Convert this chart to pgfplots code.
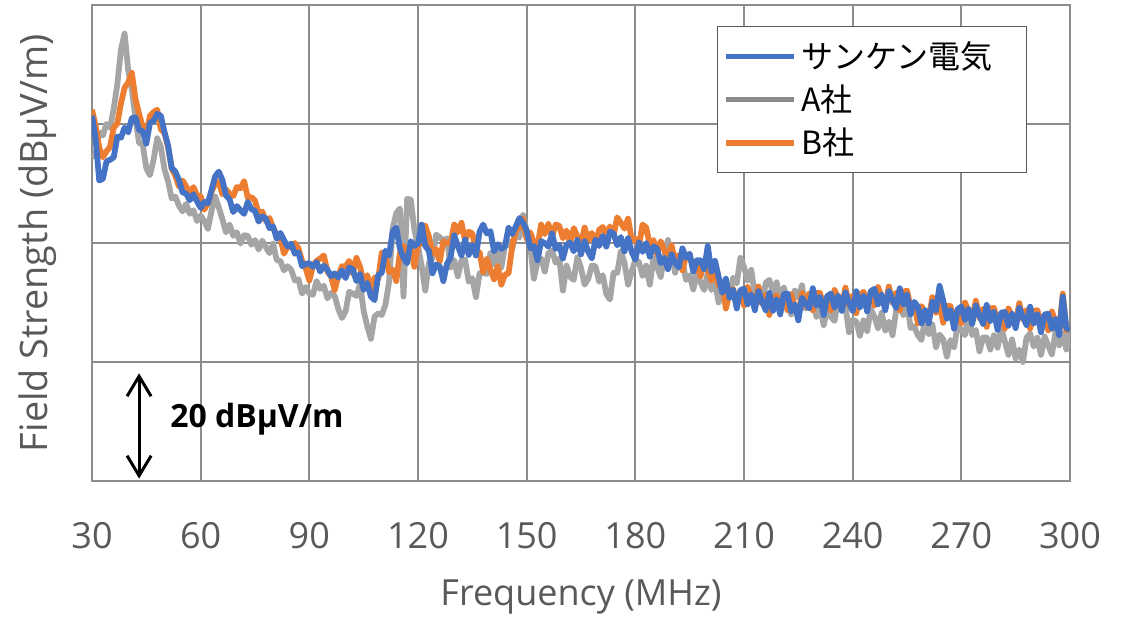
\documentclass[border=0pt]{standalone}
\usepackage{fontspec}
\setmainfont{Open Sans}
\newfontfamily\cjk{Noto Sans CJK JP}
\usepackage{pgfplots}
\usepackage{pgfplotstable}
\pgfplotsset{compat=1.18}
\usetikzlibrary{arrows.meta}

\definecolor{sanken}{HTML}{4472C4}
\definecolor{compA}{HTML}{A5A5A5}
\definecolor{legA}{HTML}{8A8A8A}
\definecolor{compB}{HTML}{ED7D31}
\definecolor{gridc}{HTML}{8C8C8C}
\definecolor{txt}{HTML}{595959}

% f = frequency (MHz), S = Sanken, A = company A, B = company B (dBuV/m, relative)
\pgfplotstableread{
f S A B
30 61.4 54.5 62.4
31 57.5 54.8 59.7
32 50.5 58.6 56.0
33 50.8 58.1 54.4
34 53.7 60.0 55.4
35 54.0 59.4 56.2
36 54.4 62.6 59.4
37 57.9 66.7 60.1
38 57.7 72.5 63.5
39 59.4 75.2 66.1
40 58.6 69.0 67.0
41 61.0 65.8 68.6
42 61.1 61.0 64.2
43 59.0 56.8 61.7
44 58.8 56.6 59.5
45 56.7 52.6 58.4
46 60.2 51.4 61.4
47 60.5 54.0 62.0
48 61.7 57.6 62.4
49 61.4 56.2 59.1
50 58.7 52.4 58.5
51 56.4 50.4 56.1
52 52.6 47.5 52.5
53 52.0 47.8 51.3
54 50.6 46.3 49.5
55 48.5 45.3 50.5
56 48.3 46.6 49.5
57 47.2 44.9 48.4
58 48.2 45.5 49.4
59 47.0 43.7 48.0
60 45.9 44.6 47.9
61 46.9 43.7 45.6
62 46.7 42.4 46.7
63 48.9 45.4 48.6
64 51.2 47.8 50.0
65 52.0 46.0 50.3
66 50.6 44.0 48.2
67 48.0 41.8 49.0
68 47.3 43.1 48.3
69 45.2 41.2 47.9
70 46.2 41.8 49.4
71 45.5 39.9 49.2
72 44.9 41.3 50.4
73 46.9 41.2 47.6
74 45.7 39.7 47.7
75 45.4 40.5 47.1
76 43.6 38.9 45.0
77 44.5 40.4 45.3
78 44.1 39.3 43.7
79 42.5 38.3 44.2
80 42.8 39.9 42.5
81 40.7 37.1 41.4
82 41.7 37.0 40.9
83 40.5 35.4 38.2
84 39.4 36.1 39.4
85 39.9 35.5 39.3
86 38.2 33.7 40.0
87 38.4 33.9 39.1
88 36.1 31.5 37.0
89 36.5 32.6 35.8
90 36.6 31.5 33.7
91 36.0 31.3 36.2
92 36.8 33.6 37.0
93 35.2 32.3 37.4
94 36.2 32.8 37.9
95 35.5 30.7 35.2
96 34.4 31.6 34.4
97 34.9 31.1 32.1
98 34.2 28.9 34.5
99 35.4 27.4 36.1
100 34.1 28.5 36.0
101 35.9 31.8 37.0
102 35.6 31.5 34.9
103 33.6 31.1 37.5
104 34.8 33.1 36.0
105 32.1 28.6 33.4
106 33.3 26.0 34.6
107 31.0 23.9 31.8
108 30.4 27.6 34.2
109 34.6 28.2 33.9
110 35.0 27.9 38.4
111 38.7 29.6 38.1
112 37.9 33.4 35.1
113 41.9 42.4 35.5
114 42.6 45.0 33.6
115 39.1 45.8 38.3
116 37.5 31.0 39.5
117 36.6 47.4 38.4
118 40.3 47.3 39.1
119 39.5 42.2 36.0
120 39.9 39.5 39.7
121 43.1 36.2 39.9
122 39.5 32.0 42.9
123 38.7 36.6 41.1
124 34.9 37.4 38.1
125 36.4 41.4 39.0
126 36.1 41.0 36.9
127 33.6 40.3 40.3
128 36.5 40.8 40.0
129 37.6 35.9 39.9
130 41.3 37.1 43.1
131 39.5 34.4 41.8
132 37.9 37.1 43.4
133 40.6 37.2 40.4
134 38.0 33.5 41.9
135 39.7 34.1 41.6
136 37.9 30.9 38.6
137 41.9 34.9 38.5
138 43.1 35.0 35.1
139 41.6 34.8 37.3
140 42.0 38.3 35.5
141 38.6 36.4 33.9
142 39.8 38.3 36.1
143 39.0 35.9 33.0
144 39.4 39.5 34.7
145 42.6 40.4 34.9
146 41.5 39.0 39.4
147 42.8 41.6 42.1
148 44.2 40.9 42.6
149 43.4 44.7 44.1
150 42.1 42.0 40.6
151 39.1 39.3 41.8
152 39.5 34.0 40.0
153 37.1 36.9 39.4
154 40.3 37.4 43.1
155 40.0 35.2 41.5
156 39.4 38.3 43.2
157 41.6 38.7 41.1
158 39.0 36.7 43.1
159 39.7 37.4 42.9
160 37.4 32.0 40.8
161 39.7 36.2 42.1
162 40.1 34.3 40.0
163 38.6 33.8 42.5
164 40.5 37.6 41.1
165 38.1 35.8 39.9
166 40.3 33.0 42.6
167 38.5 34.0 40.5
168 37.4 36.2 41.7
169 40.6 36.1 39.5
170 39.5 33.5 42.2
171 41.2 34.6 42.7
172 39.4 31.4 41.1
173 41.9 30.5 42.8
174 41.6 35.0 41.3
175 39.6 35.0 44.3
176 41.0 38.6 43.4
177 38.6 36.7 42.4
178 40.8 33.0 44.1
179 38.5 35.2 40.5
180 37.2 37.2 40.7
181 40.1 36.8 39.4
182 38.5 34.5 43.1
183 40.0 36.2 42.6
184 37.7 33.0 39.6
185 39.4 37.4 40.5
186 39.1 36.0 38.1
187 36.6 34.3 40.3
188 37.5 37.8 38.8
189 35.6 40.5 37.4
190 38.1 38.3 39.6
191 36.6 35.0 37.0
192 35.9 37.6 38.0
193 39.1 37.0 35.4
194 37.5 33.8 37.9
195 38.2 34.6 38.1
196 35.2 32.2 35.6
197 37.1 35.0 36.5
198 37.1 33.4 34.4
199 35.6 32.1 37.0
200 39.5 35.0 35.5
201 35.2 32.1 33.7
202 37.0 33.3 36.3
203 34.3 30.0 32.8
204 31.7 32.8 33.4
205 34.0 32.8 29.0
206 30.8 30.9 31.6
207 32.1 34.2 32.3
208 29.0 33.2 29.9
209 32.1 37.5 31.9
210 32.3 36.0 29.5
211 29.7 33.7 32.6
212 31.3 35.5 30.9
213 28.7 31.3 29.5
214 31.9 32.4 32.7
215 30.2 29.8 29.8
216 28.7 33.3 31.2
217 31.6 33.8 27.9
218 28.6 31.6 30.7
219 30.5 33.4 31.2
220 28.0 30.2 29.2
221 31.4 32.5 31.3
222 31.5 30.0 28.7
223 28.5 28.0 31.4
224 29.7 32.0 29.3
225 27.0 30.8 27.8
226 30.8 32.9 31.6
227 29.8 29.0 29.4
228 29.0 30.9 31.5
229 32.4 30.3 28.7
230 29.5 27.6 31.6
231 30.9 29.2 31.6
232 27.9 26.2 29.1
233 31.1 29.1 31.0
234 31.5 27.6 28.7
235 29.2 26.9 32.1
236 31.1 30.8 30.7
237 28.6 28.6 29.4
238 31.7 29.4 32.5
239 30.0 25.0 29.6
240 28.6 27.1 31.1
241 31.9 26.8 28.2
242 29.2 24.4 31.3
243 31.1 27.0 31.8
244 28.5 25.2 29.7
245 31.9 28.9 31.8
246 32.3 27.6 29.5
247 29.7 25.7 32.6
248 31.3 28.3 30.9
249 28.7 25.3 29.5
250 31.9 26.8 32.7
251 30.4 24.5 30.0
252 29.1 28.6 31.6
253 32.4 29.8 28.7
254 29.7 27.9 31.8
255 31.3 30.0 32.0
256 28.0 25.7 29.2
257 30.1 26.0 30.0
258 29.3 24.5 26.5
259 26.5 23.7 29.4
260 28.7 27.3 28.3
261 26.5 24.7 27.3
262 30.1 26.3 30.9
263 28.7 22.5 28.3
264 32.8 24.6 29.9
265 30.3 23.8 26.6
266 27.3 20.9 29.4
267 28.7 23.7 29.4
268 25.6 22.5 26.8
269 28.9 26.3 28.8
270 29.3 25.3 26.5
271 27.1 24.5 30.0
272 28.9 27.9 28.5
273 26.4 24.5 27.2
274 29.5 25.4 30.3
275 27.8 21.8 27.4
276 26.4 24.1 28.9
277 29.6 24.1 25.9
278 26.9 22.1 29.0
279 28.4 24.5 29.1
280 25.4 22.4 26.6
281 28.3 25.8 28.2
282 28.4 23.5 25.6
283 26.1 21.2 29.0
284 28.1 23.8 27.7
285 25.7 20.6 26.5
286 29.1 22.1 29.9
287 27.6 20.0 27.2
288 26.2 24.1 28.7
289 29.3 24.8 25.6
290 26.5 22.6 28.6
291 28.0 24.1 28.7
292 25.0 21.2 26.2
293 28.0 24.3 27.9
294 28.1 22.7 25.3
295 25.6 21.3 28.5
296 27.2 25.0 26.8
297 24.5 22.8 25.3
298 31.0 24.8 31.5
299 25.7 22.1 25.3
300 25.4 25.4 26.0
}\fsdata

\begin{document}
\begin{tikzpicture}
\begin{axis}[
    at={(0pt,0pt)}, anchor=south west,
    scale only axis,
    width=489pt, height=238pt,
    xmin=30, xmax=300, ymin=0, ymax=80,
    xtick={30,60,...,300},
    ytick={0,20,...,80},
    yticklabels={},
    grid=major,
    major grid style={draw=gridc, line width=1pt},
    axis line style={draw=gridc, line width=1pt},
    tick style={draw=none},
    /pgf/number format/assume math mode=true,
    xticklabel style={font=\fontsize{18}{21}\selectfont, text=txt, yshift=-17pt},
    xlabel={Frequency (MHz)},
    ylabel={Field Strength (dBμV/m)},
    xlabel style={font=\fontsize{18}{21}\selectfont, text=txt,
        at={(axis description cs:0.5,-0.2437)}, anchor=center},
    ylabel style={font=\fontsize{18.9}{22}\selectfont, text=txt,
        at={(axis description cs:-0.0552,0.5)}, anchor=center},
    legend cell align=left,
    legend image code/.code={
        \path (0pt,0pt) -- (34pt,0pt);
        \draw[#1, line cap=butt] (2.5pt,0pt) -- (30pt,0pt);},
    legend style={at={(axis description cs:0.639,0.9565)}, anchor=north west,
        draw=txt, line width=0.6pt, fill=white,
        font=\cjk\fontsize{16}{19}\selectfont,
        inner xsep=3pt, inner ysep=5.5pt, row sep=2.7pt},
    every axis plot/.append style={line width=2.9pt, line join=round},
]
\addlegendimage{sanken, line width=2.8pt}
\addlegendentry{\makebox[107.5pt][l]{サンケン電気}}
\addlegendimage{legA, line width=2.8pt}
\addlegendentry{A社}
\addlegendimage{compB, line width=2.8pt}
\addlegendentry{B社}

\addplot[compA, forget plot] table[x=f, y=A] {\fsdata};
\addplot[compB, forget plot] table[x=f, y=B] {\fsdata};
\addplot[sanken, forget plot] table[x=f, y=S] {\fsdata};

\draw[{Straight Barb[length=10pt,width=12pt]}-{Straight Barb[length=10pt,width=12pt]}, line width=1.5pt, black]
    (axis cs:43,0.4) -- (axis cs:43,18.1);
\node[anchor=west, inner sep=0pt, font=\bfseries\fontsize{16}{19}\selectfont]
    at (axis cs:51.5,10.4) {20 dBμV/m};
\end{axis}
\pgfresetboundingbox
\path (-46pt,-68pt) rectangle (519pt,240.5pt);
\end{tikzpicture}
\end{document}
